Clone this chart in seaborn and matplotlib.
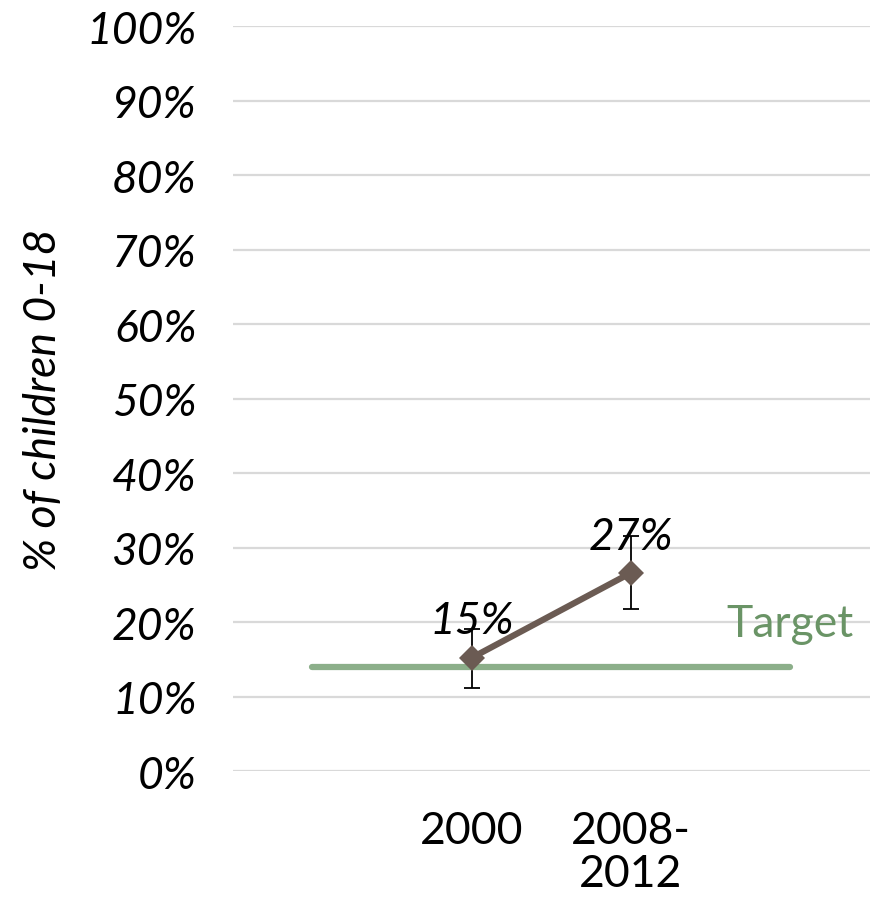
import matplotlib
matplotlib.use("Agg")
import matplotlib.pyplot as plt
import seaborn as sns
import pandas as pd

# data
periods = ["2000", "2008-\n2012"]
values = [0.152, 0.266]
err_low = [0.111, 0.217]
err_high = [0.191, 0.315]
labels = ["15%", "27%"]
target_value = 0.14
y_ticks = [0.0, 0.1, 0.2, 0.3, 0.4, 0.5, 0.6, 0.7, 0.8, 0.9, 1.0]

sns.set_theme(style="white")
plt.rcParams["font.family"] = ["Lato", "DejaVu Sans"]
plt.rcParams["text.color"] = "black"
plt.rcParams["xtick.color"] = "black"
plt.rcParams["ytick.color"] = "black"
plt.rcParams["axes.labelcolor"] = "black"

FS = 32

fig = plt.figure(figsize=(8.82, 9.03), dpi=100)
ax = fig.add_axes([0.264, 0.145, 0.722, 0.825])

# four slots on the category axis: blank, 2000, 2008-2012, blank
slots = ["", periods[0], periods[1], ""]
pos = list(range(len(slots)))

df = pd.DataFrame({"x": pos[1:3], "y": values})
target_df = pd.DataFrame({"x": [pos[0], pos[-1]], "y": [target_value, target_value]})

for t in y_ticks:
    ax.axhline(t, color="#d9d9d9", lw=1.6, zorder=0)

sns.lineplot(data=target_df, x="x", y="y", ax=ax, color="#8caf8a", lw=4.5,
             solid_capstyle="round", zorder=2)
sns.lineplot(data=df, x="x", y="y", ax=ax, color="#6b5b53", lw=4.5,
             marker="D", markersize=13, markeredgewidth=0, zorder=4)

yerr = [[v - lo for v, lo in zip(values, err_low)],
        [hi - v for v, hi in zip(values, err_high)]]
ax.errorbar(df["x"], df["y"], yerr=yerr, fmt="none", ecolor="black",
            elinewidth=1.3, capsize=6, capthick=1.3, zorder=3)

for x, v, lab in zip(df["x"], values, labels):
    ax.text(x, v + 0.022, lab, ha="center", va="bottom", fontsize=FS,
            style="italic", color="black", zorder=5)

ax.text(pos[-1], 0.198, "Target", ha="center", va="center", fontsize=FS,
        color="#6a9466")

ax.set_xlim(-0.5, 3.5)
ax.set_ylim(0, 1)
ax.set_xticks(pos)
ax.set_xticklabels(slots, fontsize=FS, linespacing=1.05)
ax.set_yticks(y_ticks)
ax.set_yticklabels([f"{int(round(t * 100))}%" for t in y_ticks],
                   fontsize=FS, style="italic")
ax.tick_params(axis="both", length=0)
ax.tick_params(axis="y", pad=26)
ax.tick_params(axis="x", pad=28)
ax.set_xlabel("")
ax.set_ylabel("% of children 0-18", fontsize=FS, style="italic", labelpad=16)
sns.despine(ax=ax, left=True, bottom=True)

fig.savefig("out.png", dpi=100)
